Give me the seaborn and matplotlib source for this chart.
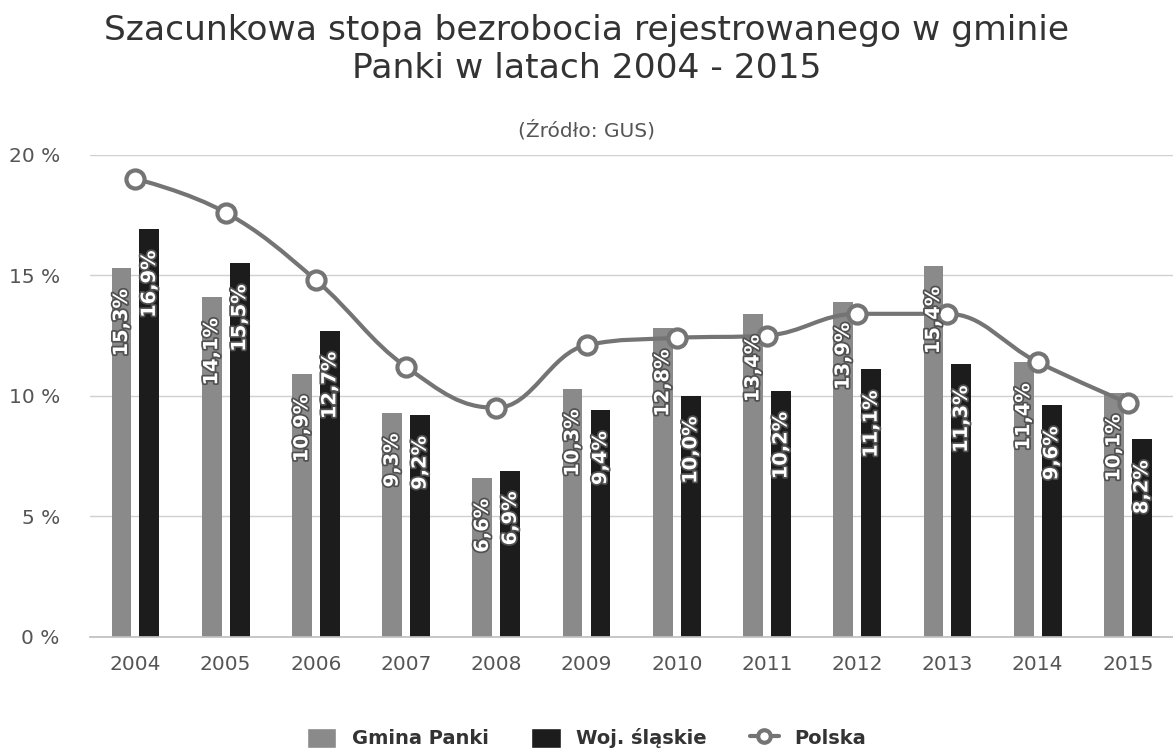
import numpy as np
import pandas as pd
import seaborn as sns
import matplotlib
matplotlib.use("Agg")
import matplotlib.pyplot as plt
import matplotlib.patheffects as pe
from matplotlib.path import Path
from matplotlib.patches import PathPatch, Patch
from matplotlib.lines import Line2D

years = ["2004", "2005", "2006", "2007", "2008", "2009", "2010", "2011", "2012", "2013", "2014", "2015"]
gmina = [15.3, 14.1, 10.9, 9.3, 6.6, 10.3, 12.8, 13.4, 13.9, 15.4, 11.4, 10.1]
slaskie = [16.9, 15.5, 12.7, 9.2, 6.9, 9.4, 10.0, 10.2, 11.1, 11.3, 9.6, 8.2]
polska = [19.0, 17.6, 14.8, 11.2, 9.5, 12.1, 12.4, 12.5, 13.4, 13.4, 11.4, 9.7]
series_names = ["Gmina Panki", "Woj. śląskie"]

df = pd.DataFrame({
    "rok": years * 2,
    "stopa": gmina + slaskie,
    "seria": [series_names[0]] * len(years) + [series_names[1]] * len(years),
})


def spline_path(xs, ys, smoothing=1.5):
    # highcharts-like spline: control points per point, then cubic bezier segments
    n = len(xs)
    denom = smoothing + 1
    left = [(xs[i], ys[i]) for i in range(n)]
    right = [(xs[i], ys[i]) for i in range(n)]
    for i in range(1, n - 1):
        px, py = xs[i], ys[i]
        lx, ly = xs[i - 1], ys[i - 1]
        nx, ny = xs[i + 1], ys[i + 1]
        lcx = (smoothing * px + lx) / denom
        lcy = (smoothing * py + ly) / denom
        rcx = (smoothing * px + nx) / denom
        rcy = (smoothing * py + ny) / denom
        corr = ((rcy - lcy) * (rcx - px)) / (rcx - lcx) + py - rcy
        lcy += corr
        rcy += corr
        if lcy > ly and lcy > py:
            lcy = max(ly, py)
            rcy = 2 * py - lcy
        elif lcy < ly and lcy < py:
            lcy = min(ly, py)
            rcy = 2 * py - lcy
        if rcy > ny and rcy > py:
            rcy = max(ny, py)
            lcy = 2 * py - rcy
        elif rcy < ny and rcy < py:
            rcy = min(ny, py)
            lcy = 2 * py - rcy
        left[i] = (lcx, lcy)
        right[i] = (rcx, rcy)
    verts = [(xs[0], ys[0])]
    codes = [Path.MOVETO]
    for i in range(1, n):
        verts += [right[i - 1], left[i], (xs[i], ys[i])]
        codes += [Path.CURVE4] * 3
    return Path(verts, codes)


sns.set_theme(style="white")
plt.rcParams["font.family"] = ["DejaVu Sans"]

fig = plt.figure(figsize=(11.73, 7.51), dpi=100)
ax = fig.add_axes([0.077, 0.152, 0.923, 0.642])

colors = {"Gmina Panki": "#8a8a8a", "Woj. śląskie": "#1c1c1c"}
sns.barplot(data=df, x="rok", y="stopa", hue="seria", hue_order=series_names,
            palette=colors, width=0.62, gap=0.29, ax=ax, legend=False,
            saturation=1, linewidth=0, zorder=2)

xs = np.arange(len(years), dtype=float)
ys = np.array(polska, dtype=float)
ax.add_patch(PathPatch(spline_path(xs, ys), fill=False, edgecolor="#747474", lw=3, zorder=5))
sns.scatterplot(x=xs, y=ys, ax=ax, s=170, color="white", edgecolor="#747474",
                linewidth=3, zorder=6, legend=False)

# data labels inside bars, rotated (drawn above the line)
for cont in ax.containers:
    for bar in cont:
        h = bar.get_height()
        cx = bar.get_x() + bar.get_width() / 2
        ax.annotate(f"{h:.1f}%".replace(".", ","), (cx, h), xytext=(0, -15),
                    textcoords="offset points", rotation=90, ha="center", va="top",
                    color="white", fontsize=14, fontweight="bold", zorder=8,
                    path_effects=[pe.withStroke(linewidth=2.5, foreground="#505050")])

ax.set_ylim(0, 20)
ax.set_xlim(-0.5, len(years) - 0.5)
ax.set_yticks([0, 5, 10, 15, 20])
ax.set_yticklabels(["0 %", "5 %", "10 %", "15 %", "20 %"])
ax.grid(axis="y", color="#d0d0d0", lw=1, zorder=0)
ax.set_axisbelow(True)
ax.set_xlabel("")
ax.set_ylabel("")
for s in ["top", "right", "left"]:
    ax.spines[s].set_visible(False)
ax.spines["bottom"].set_color("#c0c0c0")
ax.set_xticks(np.arange(-0.5, len(years)), minor=True)
ax.tick_params(axis="x", which="minor", length=13, color="#c0c0c0", width=1)
ax.tick_params(axis="x", which="major", length=0, pad=13, labelsize=14.5, labelcolor="#555555")
ax.tick_params(axis="y", length=0, pad=22, labelsize=14.5, labelcolor="#555555")

fig.text(0.5, 0.981, "Szacunkowa stopa bezrobocia rejestrowanego w gminie\nPanki w latach 2004 - 2015",
         ha="center", va="top", fontsize=24.8, color="#333333", linespacing=1.2)
fig.text(0.5, 0.826, "(Źródło: GUS)", ha="center", va="center", fontsize=14.5, color="#555555")

handles = [Patch(facecolor=colors[series_names[0]]), Patch(facecolor=colors[series_names[1]]),
           Line2D([0], [0], color="#747474", lw=3, marker="o", markersize=9,
                  markerfacecolor="white", markeredgewidth=3, markeredgecolor="#747474")]
leg = fig.legend(handles, series_names + ["Polska"], loc="center", bbox_to_anchor=(0.5, 0.017),
                 ncol=3, frameon=False, handlelength=1.5, handleheight=1.2, columnspacing=2.2,
                 prop={"size": 14, "weight": "bold"})
for t_ in leg.get_texts():
    t_.set_color("#333333")

fig.savefig("out.png", dpi=100)
